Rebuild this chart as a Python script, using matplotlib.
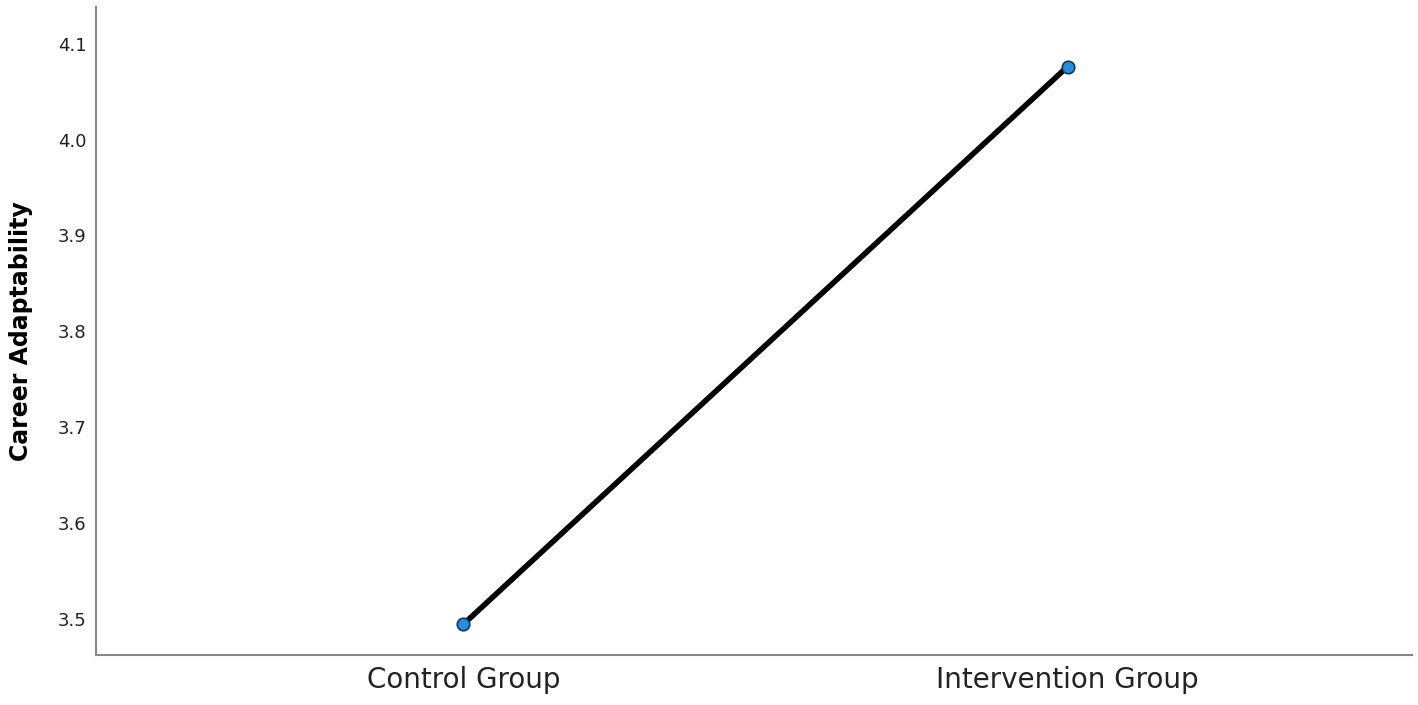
import matplotlib.pyplot as plt

groups = ["Control Group", "Intervention Group"]
means = [3.495, 4.076]
yticks = [3.5, 3.6, 3.7, 3.8, 3.9, 4.0, 4.1]

fig = plt.figure(figsize=(14.18, 7.05), dpi=100)
ax = fig.add_axes([0.0677, 0.071, 0.9281, 0.919])

x = list(range(len(groups)))
ax.plot(x, means, color="black", linewidth=4, solid_capstyle="round", zorder=2)
ax.plot(x, means, linestyle="none", marker="o", markersize=9,
        markerfacecolor="#1f8fea", markeredgecolor="#1a3550", markeredgewidth=1.2, zorder=3)

ax.set_xlim(-0.608, 1.57)
ax.set_ylim(3.463, 4.138)
ax.set_xticks(x)
ax.set_xticklabels(groups, fontsize=20, color="#222222")
ax.set_yticks(yticks)
ax.set_yticklabels([f"{v:.1f}" for v in yticks], fontsize=13, color="#222222")
ax.tick_params(axis="both", length=0)
ax.tick_params(axis="x", pad=8)
ax.tick_params(axis="y", pad=7)
ax.set_ylabel("Career Adaptability", fontsize=17, fontweight="bold", labelpad=18)

for side in ["top", "right"]:
    ax.spines[side].set_visible(False)
for side in ["left", "bottom"]:
    ax.spines[side].set_color("#888888")
    ax.spines[side].set_linewidth(1.5)

fig.savefig("out.png", dpi=100)
